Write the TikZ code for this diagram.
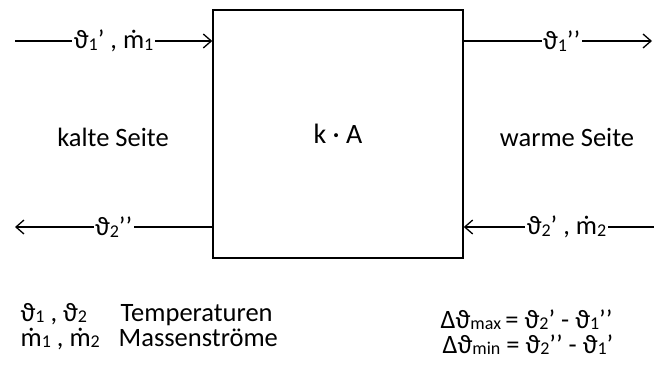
\documentclass[tikz,border=0pt]{standalone}
\usepackage{fontspec}
\setmainfont{Carlito}
\usetikzlibrary{arrows.meta}
\newcommand{\lo}[1]{\raisebox{-0.06em}{\fontsize{18}{18}\selectfont #1}}
\begin{document}
\begin{tikzpicture}[x=1pt,y=-1pt,line width=1.3pt,
  font=\fontsize{26.5}{30}\selectfont,
  tip/.style={-{Straight Barb[length=8pt,width=14pt,line width=1.3pt]}},
  lbl/.style={fill=white,inner sep=1.5pt},
  txt/.style={inner sep=0pt,anchor=base west}]
\useasboundingbox (0,0) rectangle (654,367);
\node[draw,line width=1.5pt,minimum width=250pt,minimum height=248pt,inner sep=0pt] (box) at (338,134) {};
\node[font=\fontsize{28}{32}\selectfont] (ka) at (338,134) {k · A};
\node (kalt) at (113,137) {kalte Seite};
\node (warm) at (567,137) {warme Seite};
\coordinate (tl) at (15,41);
\coordinate (tr) at (652,41);
\coordinate (bl) at (15,227);
\coordinate (br) at (654,227);
\draw[tip] (tl) -- node[lbl,pos=0.5]{ϑ\lo{1}’ , ṁ\lo{1}} (box.west |- tl);
\draw[tip] (box.east |- tr) -- node[lbl,pos=0.52]{ϑ\lo{1}’’} (tr);
\draw[tip] (box.west |- bl) -- node[lbl,pos=0.5]{ϑ\lo{2}’’} (bl);
\draw[tip] (br) -- node[lbl,pos=0.46]{ϑ\lo{2}’ , ṁ\lo{2}} (box.east |- br);
\node[txt] (t1) at (20,321) {ϑ\lo{1} , ϑ\lo{2}};
\node[txt] (t2) at (120,321) {Temperaturen};
\node[txt] (m1) at (20,346) {ṁ\lo{1} , ṁ\lo{2}};
\node[txt] (m2) at (118,346) {Massenströme};
\node[txt] (d1) at (440,328) {Δϑ\lo{max}\,= ϑ\lo{2}’ - ϑ\lo{1}’’};
\node[txt] (d2) at (442,353) {Δϑ\lo{min} = ϑ\lo{2}’’ - ϑ\lo{1}’};
\end{tikzpicture}
\end{document}
